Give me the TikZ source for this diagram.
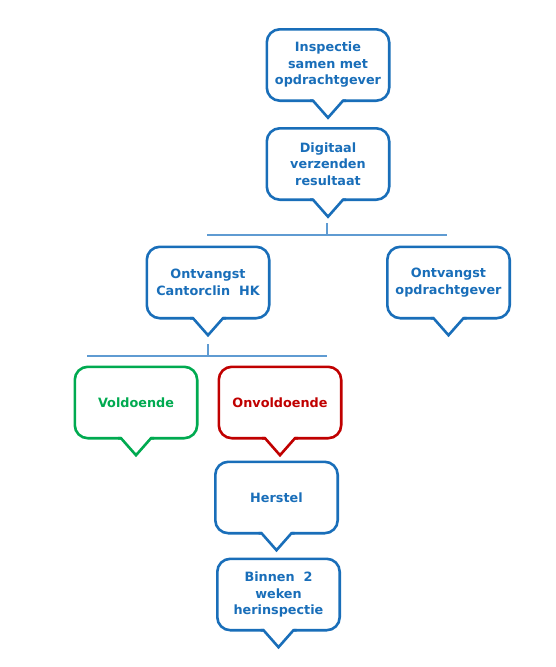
\documentclass[tikz,border=0pt]{standalone}
\usepackage{fontspec}
\setmainfont{DejaVu Sans}
\usetikzlibrary{calc}
\definecolor{bblue}{RGB}{25,110,185}
\definecolor{lblue}{RGB}{95,155,210}
\definecolor{bgreen}{RGB}{0,170,80}
\definecolor{bred}{RGB}{192,0,0}
\tikzset{
  bubble/.style={minimum width=122pt, minimum height=71pt, inner sep=0pt, align=center,
    font=\fontsize{12.8}{16.5}\selectfont\bfseries, text=#1},
  bubble/.default=bblue,
  tree/.style={draw=lblue, line width=2.6pt},
}
\newcommand\bubbleframe[2]{%
  \draw[line width=2.6pt, #2, rounded corners=13pt] (#1.south west) rectangle (#1.north east);
  \fill[white] ($(#1.south)+(-15pt,-3pt)$) rectangle ($(#1.south)+(15pt,3pt)$);
  \draw[line width=2.6pt, #2, line join=miter]
    ($(#1.south)+(-18pt,0)$) -- ($(#1.south)+(-15pt,0)$) -- ($(#1.south)+(0,-17pt)$)
    -- ($(#1.south)+(15pt,0)$) -- ($(#1.south)+(18pt,0)$);}
\begin{document}
\begin{tikzpicture}[x=1pt,y=-1pt]
\useasboundingbox (0,0) rectangle (555,667);
\node[bubble] (insp) at (328,65) {Inspectie\\samen met\\opdrachtgever};
\node[bubble] (dig) at (328,164) {Digitaal\\verzenden\\resultaat};
\node[bubble] (cant) at (208,282.5) {Ontvangst\\Cantorclin\ \ HK};
\node[bubble] (opdr) at (448.5,282.5) {Ontvangst\\opdrachtgever};
\node[bubble=bgreen] (vold) at (136,402.5) {Voldoende};
\node[bubble=bred] (onv) at (280,402.5) {Onvoldoende};
\node[bubble] (herst) at (276.5,497.5) {Herstel};
\node[bubble] (binn) at (278.5,594.5) {Binnen\ \ 2\\weken\\herinspectie};
\bubbleframe{insp}{bblue}
\bubbleframe{dig}{bblue}
\bubbleframe{cant}{bblue}
\bubbleframe{opdr}{bblue}
\bubbleframe{vold}{bgreen}
\bubbleframe{onv}{bred}
\bubbleframe{herst}{bblue}
\bubbleframe{binn}{bblue}
% tree connectors
\coordinate (s1) at (327,223);
\coordinate (b1l) at (207,235);
\coordinate (b1r) at (447,235);
\coordinate (s2) at (208,344);
\coordinate (b2l) at (87,356);
\coordinate (b2r) at (327,356);
\draw[tree] (b1l) -- (b1r);
\draw[tree] (s1) -- (s1 |- b1l);
\draw[tree] (b2l) -- (b2r);
\draw[tree] (s2) -- (s2 |- b2l);
\end{tikzpicture}
\end{document}
